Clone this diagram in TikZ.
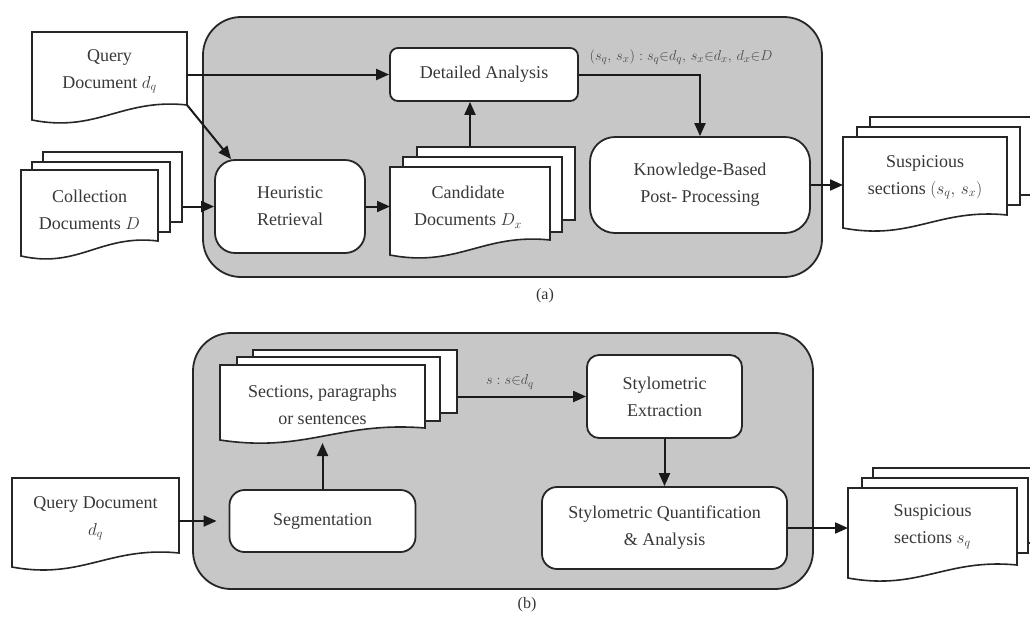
\documentclass[tikz,border=0pt]{standalone}
\usepackage{fontspec}
\setmainfont{Liberation Serif}
\usetikzlibrary{arrows.meta,calc}
\newcommand\mainfs{\fontsize{18}{27}\selectfont}
\newcommand\labfs{\fontsize{15}{18}\selectfont}
% document symbol: straight top and sides, wavy bottom edge
% #1 node giving the sheet's box, #2 its width (pt), #3 extra drop of the left corner (pt)
\newcommand\wavydoc[3]{%
  \draw[docline] (#1.south east) -- (#1.north east) -- (#1.north west)
    -- ([yshift=-#3pt]#1.south west)
    .. controls +(0.42*#2pt,-13pt) and +(-0.42*#2pt,7pt) .. (#1.south east) -- cycle;}
\begin{document}
\begin{tikzpicture}[x=1pt,y=-1pt,
  panel/.style={draw=black!85, fill=black!22, line width=1.8pt, rounded corners=38pt, inner sep=0pt},
  proc/.style={draw=black!85, fill=white, line width=1.8pt, align=center, text=black!78, font=\mainfs, inner sep=0pt},
  sheet/.style={draw=black!85, fill=white, line width=1.6pt, inner sep=0pt},
  docline/.style={draw=black!85, fill=white, line width=1.6pt},
  geom/.style={inner sep=0pt, outer sep=0pt},
  doctext/.style={align=center, text=black!78, font=\mainfs, inner sep=0pt},
  maths/.style={text=black!70, font=\labfs, inner sep=0pt},
  caption/.style={text=black!80, font=\fontsize{16}{18}\selectfont, inner sep=0pt},
  flow/.style={draw=black!90, line width=2pt, -{Triangle[length=13pt,width=11pt]}}]
\useasboundingbox (0,0) rectangle (1030,619);

% ---------- (a) ----------
\node[panel, minimum width=619pt, minimum height=260pt] (pa) at (512.5,147) {};
\node[caption] (capa) at (545,296) {(a)};

% query document
\node[geom, minimum width=155pt, minimum height=73pt] (qa) at (109.5,68.5) {};
\wavydoc{qa}{155}{15}
\node[doctext] (qat) at ([yshift=-2.5pt]qa.center) {Query\\Document $d_q$};

% collection documents
\node[sheet, minimum width=139pt, minimum height=70pt] (cd3) at (112.5,187) {};
\node[sheet, minimum width=138pt, minimum height=70pt] (cd2) at (101,197) {};
\node[geom, minimum width=137pt, minimum height=71pt] (cd) at (89.5,205.5) {};
\wavydoc{cd}{137}{15}
\node[doctext] (cdt) at ([yshift=-4.5pt]cd.center) {Collection\\Documents $D$};

% candidate documents
\node[sheet, minimum width=158pt, minimum height=73pt] (cn3) at (496,183.5) {};
\node[sheet, minimum width=159pt, minimum height=75pt] (cn2) at (482.5,194.5) {};
\node[geom, minimum width=160pt, minimum height=73pt] (cn) at (470,203.5) {};
\wavydoc{cn}{160}{15}
\node[doctext] (cnt) at ([xshift=-2pt,yshift=-3.5pt]cn.center) {Candidate\\Documents $D_x$};

% suspicious sections (a)
\node[sheet, minimum width=164pt, minimum height=78pt] (sa3) at (952,156) {};
\node[sheet, minimum width=163pt, minimum height=78pt] (sa2) at (938.5,166) {};
\node[geom, minimum width=164pt, minimum height=78pt] (sa) at (925,176) {};
\wavydoc{sa}{164}{13}
\node[doctext] (sat) at ([yshift=-1pt]sa.center) {Suspicious\\sections $(s_q,\,s_x)$};

% processing steps
\node[proc, rounded corners=20pt, minimum width=150pt, minimum height=93pt] (hr) at (290,206.5) {Heuristic\\Retrieval};
\node[proc, rounded corners=8pt, minimum width=188pt, minimum height=53pt] (da) at (484,74.5) {Detailed Analysis};
\node[proc, rounded corners=25pt, minimum width=220pt, minimum height=96pt] (kb) at (700,185) {Knowledge-Based\\Post- Processing};

\node[maths] (pairs) at (681,57) {$(s_q,\,s_x) : s_q{\in}d_q,\, s_x{\in}d_x,\, d_x{\in}D$};

\draw[flow] (qa.east |- da.west) -- (da.west);
\draw[flow] (qa.south east) -- ([xshift=17pt]hr.north west);
\draw[flow] (cd3.east |- hr.west) -- (hr.west);
\draw[flow] (hr.east) -- (cn.west |- hr.east);
\draw[flow] (cn3.north -| cn.north) -- (da.south -| cn.north);
\draw[flow] (da.east) -| (kb.north);
\draw[flow] (kb.east) -- (sa.west |- kb.east);

% ---------- (b) ----------
\node[panel, minimum width=620pt, minimum height=256pt] (pb) at (503,461) {};
\node[caption] (capb) at (527,605) {(b)};

% query document
\node[geom, minimum width=167pt, minimum height=75pt] (qb) at (95.5,515.5) {};
\wavydoc{qb}{167}{14}
\node[doctext] (qbt) at ([yshift=-2.5pt]qb.center) {Query Document\\$d_q$};

% sections, paragraphs or sentences
\node[sheet, minimum width=204pt, minimum height=63pt] (sc3) at (355,381.5) {};
\node[sheet, minimum width=203pt, minimum height=64pt] (sc2) at (338.5,389) {};
\node[geom, minimum width=205pt, minimum height=63pt] (sc) at (322.5,396.5) {};
\wavydoc{sc}{205}{12}
\node[doctext] (sct) at ([yshift=-8pt]sc.center) {Sections, paragraphs\\or sentences};

% suspicious sections (b)
\node[sheet, minimum width=163pt, minimum height=75pt] (sb3) at (954.5,505.5) {};
\node[sheet, minimum width=166pt, minimum height=75pt] (sb2) at (945,515.5) {};
\node[geom, minimum width=169pt, minimum height=77pt] (sb) at (932.5,526.5) {};
\wavydoc{sb}{169}{13}
\node[doctext] (sbt) at (sb.center) {Suspicious\\sections $s_q$};

% processing steps
\node[proc, rounded corners=15pt, minimum width=186pt, minimum height=62pt] (sg) at (322.5,521) {Segmentation};
\node[proc, rounded corners=12pt, minimum width=155pt, minimum height=83pt] (se) at (664.5,396.5) {Stylometric\\Extraction};
\node[proc, rounded corners=15pt, minimum width=245pt, minimum height=82pt] (sq) at (664.5,528) {Stylometric Quantification\\\& Analysis};

\node[maths] (sset) at (510,382) {$s : s{\in}d_q$};

\draw[flow] (qb.east |- sg.west) -- ([xshift=-12pt]sg.west);
\draw[flow] (sg.north) -- ([yshift=-15pt]sc.south);
\draw[flow] (sc3.east |- se.west) -- (se.west);
\draw[flow] (se.south) -- (sq.north);
\draw[flow] (sq.east) -- (sb.west |- sq.east);
\end{tikzpicture}
\end{document}
